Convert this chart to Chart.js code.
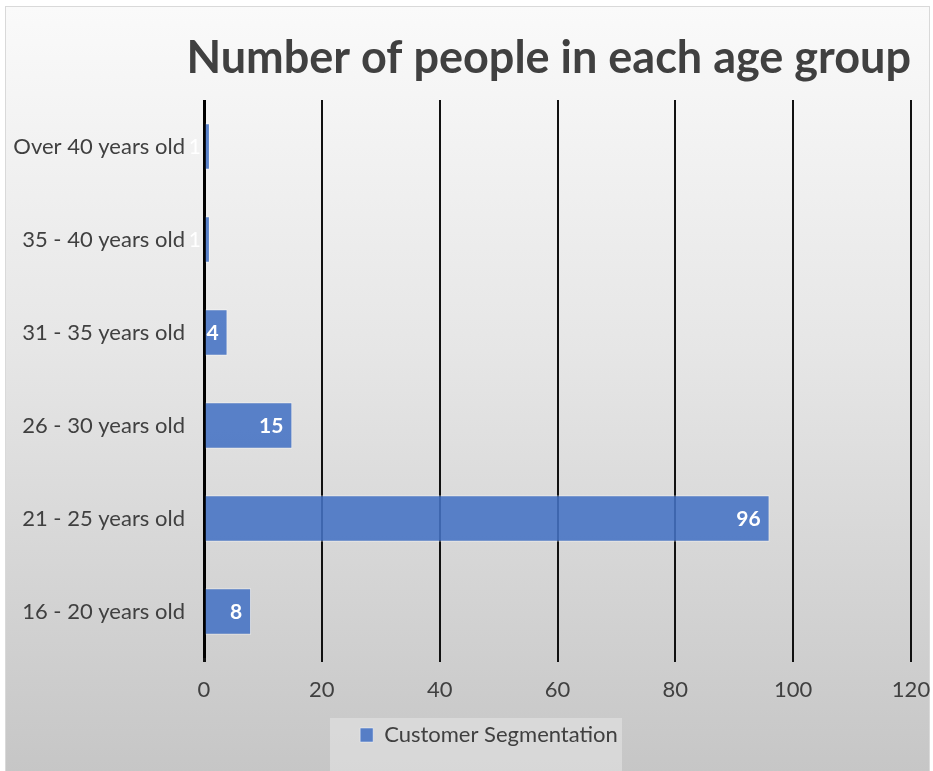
<!DOCTYPE html>
<html>
<head>
<meta charset="utf-8">
<script src="https://cdn.jsdelivr.net/npm/chart.js@4"></script>
<style>
    html, body { margin: 0; padding: 0; background: #ffffff; }
    #wrap {
        position: absolute; left: 5px; top: 6px; width: 923px; height: 765px;
        border: 1px solid #d9d9d9; border-bottom: none;
        background: linear-gradient(to bottom, #fafafa 0%, #e6e6e6 45%, #c6c6c6 100%);
    }
    #chart { position: absolute; left: 0; top: 0; }
</style>
</head>
<body>
<div id="wrap"></div>
<canvas id="chart" width="933" height="771"></canvas>
<script>
// Data
const ageGroups = [
    'Over 40 years old',
    '35 - 40 years old',
    '31 - 35 years old',
    '26 - 30 years old',
    '21 - 25 years old',
    '16 - 20 years old',
];
const peopleCount = [1, 1, 4, 15, 96, 8];
const xTicks = [0, 20, 40, 60, 80, 100, 120];

const textColor = '#404040';
Chart.defaults.font.family = 'Lato, "Open Sans", sans-serif';
Chart.defaults.color = textColor;

// Light box behind the legend, and nudge legend to the right like the original
const legendBox = {
    id: 'legendBox',
    afterLayout(chart) {
        const lg = chart.legend;
        lg.left += 30;
        lg.right += 30;
    },
    beforeDraw(chart) {
        const { ctx } = chart;
        ctx.save();
        ctx.fillStyle = 'rgba(230,230,230,0.55)';
        ctx.fillRect(330, 718, 292, 60);
        ctx.restore();
    },
};

// Value labels at the inside end of each bar
const barLabels = {
    id: 'barLabels',
    afterDatasetsDraw(chart) {
        const { ctx } = chart;
        const meta = chart.getDatasetMeta(0);
        ctx.save();
        ctx.fillStyle = '#ffffff';
        ctx.textAlign = 'right';
        ctx.textBaseline = 'middle';
        meta.data.forEach((bar, i) => {
            const v = peopleCount[i];
            ctx.font = (v > 1 ? 'bold ' : '') + '21px Lato, sans-serif';
            ctx.fillText(String(v), bar.x - 9, bar.y + 1);
        });
        ctx.restore();
    },
};

new Chart(document.getElementById('chart'), {
    type: 'bar',
    data: {
        labels: ageGroups,
        datasets: [{
            label: 'Customer Segmentation',
            data: peopleCount,
            backgroundColor: 'rgba(68,114,196,0.88)',
            borderColor: 'rgba(255,255,255,0.45)',
            borderWidth: 1,
            barPercentage: 0.5,
            categoryPercentage: 1,
        }],
    },
    options: {
        indexAxis: 'y',
        responsive: false,
        animation: false,
        layout: {
            padding: { left: 7, right: 22, top: 0, bottom: 15 },
        },
        scales: {
            x: {
                min: 0,
                max: 120,
                afterBuildTicks: (scale) => {
                    scale.ticks = xTicks.map((v) => ({ value: v }));
                },
                afterFit: (scale) => {
                    scale.height = 56;
                    scale.paddingRight = 0;
                    scale.paddingLeft = 0;
                },
                border: { display: false },
                grid: {
                    color: (c) => (c.tick && c.tick.value === 0 ? '#000000' : '#111111'),
                    lineWidth: (c) => (c.tick && c.tick.value === 0 ? 3 : 2),
                    tickLength: 4,
                    tickColor: '#111111',
                },
                ticks: {
                    color: textColor,
                    padding: 15,
                    font: { size: 22 },
                },
            },
            y: {
                border: { display: false },
                grid: { display: false },
                afterFit: (scale) => {
                    scale.width = 197;
                },
                ticks: {
                    color: textColor,
                    padding: 11,
                    font: { size: 22 },
                },
            },
        },
        plugins: {
            title: {
                display: true,
                text: 'Number of people in each age group',
                align: 'end',
                color: textColor,
                font: { size: 45, weight: 'bold' },
                padding: { top: 31, bottom: 15 },
            },
            legend: {
                position: 'bottom',
                labels: {
                    boxWidth: 13,
                    boxHeight: 14,
                    padding: 10,
                    color: textColor,
                    font: { size: 22 },
                },
            },
            tooltip: { enabled: false },
        },
    },
    plugins: [legendBox, barLabels],
});
</script>
</body>
</html>
